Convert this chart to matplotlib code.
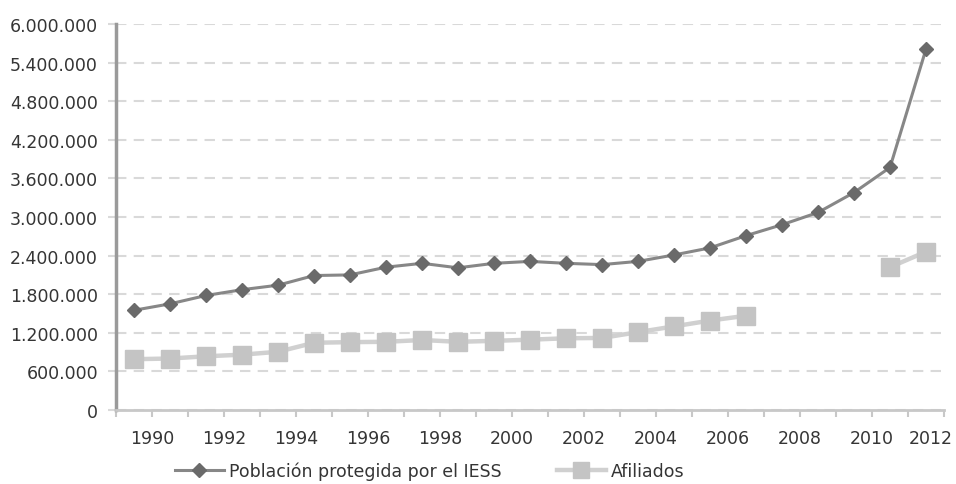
import numpy as np
import matplotlib
matplotlib.use("Agg")
import matplotlib.pyplot as plt
import matplotlib.transforms as mtransforms
from matplotlib.ticker import FuncFormatter

years = list(range(1990, 2013))
poblacion = [1550000, 1650000, 1780000, 1870000, 1940000, 2090000, 2100000, 2220000,
             2280000, 2210000, 2280000, 2310000, 2280000, 2260000, 2310000, 2410000,
             2520000, 2710000, 2880000, 3070000, 3380000, 3770000, 5610000]
afiliados = [790000, 800000, 835000, 860000, 905000, 1045000, 1055000, 1060000,
             1088000, 1060000, 1075000, 1093000, 1115000, 1120000, 1210000, 1300000,
             1390000, 1465000, np.nan, np.nan, np.nan, 2220000, 2460000]
label_years = list(range(1990, 2013, 2))

plt.rcParams['font.family'] = ['DejaVu Sans']
txt = '#353535'

fig = plt.figure(figsize=(9.56, 4.85), dpi=100)
ax = fig.add_axes([116 / 956, 1 - 411 / 485, (944 - 116) / 956, (411 - 25) / 485])

ax.plot(years, afiliados, color='#d0d0d0', lw=3.2, marker='s', ms=12.5,
        mfc='#c4c4c4', mec='#c4c4c4', label='Afiliados', zorder=3)
ax.plot(years, poblacion, color='#878787', lw=2.2, marker='D', ms=7.5,
        mfc='#6a6a6a', mec='#6a6a6a', label='Población protegida por el IESS', zorder=4)

ax.set_xlim(1989.5, 2012.5)
ax.set_ylim(0, 6000000)
ax.set_yticks(np.arange(0, 6000001, 600000))
ax.yaxis.set_major_formatter(FuncFormatter(lambda v, p: f"{int(v):,}".replace(',', '.')))

ax.set_xticks(np.arange(1989.5, 2013, 1), minor=True)
ax.set_xticks([y + 0.5 for y in label_years])
ax.set_xticklabels([str(y) for y in label_years])
ax.tick_params(axis='x', which='both', length=5, width=1.5, color='#c8c8c8',
               labelsize=12.5, labelcolor=txt, pad=9)
ax.tick_params(axis='y', length=6, width=1.5, color='#dadada', labelsize=12.5,
               labelcolor=txt, pad=7)

# last year label is pushed inward so it stays inside the picture
last = ax.get_xticklabels()[-1]
last.set_transform(last.get_transform() + mtransforms.ScaledTranslation(-13 / 100, 0, fig.dpi_scale_trans))

ax.grid(axis='y', color='#d9d9d9', lw=1.5, linestyle=(0, (5, 3.5)))
ax.set_axisbelow(True)
for s in ['top', 'right']:
    ax.spines[s].set_visible(False)
ax.spines['left'].set_color('#9a9a9a')
ax.spines['left'].set_linewidth(2.5)
ax.spines['bottom'].set_color('#c8c8c8')
ax.spines['bottom'].set_linewidth(2)

h, l = ax.get_legend_handles_labels()
fig.legend(h[::-1], l[::-1], loc='center left', bbox_to_anchor=(175 / 956, 1 - 472 / 485),
           ncol=2, frameon=False, fontsize=12.5, labelcolor=txt, borderpad=0,
           borderaxespad=0, handlelength=2.8, handletextpad=0.3, columnspacing=3.2,
           markerscale=0.9)

fig.savefig('out.png', dpi=100)
